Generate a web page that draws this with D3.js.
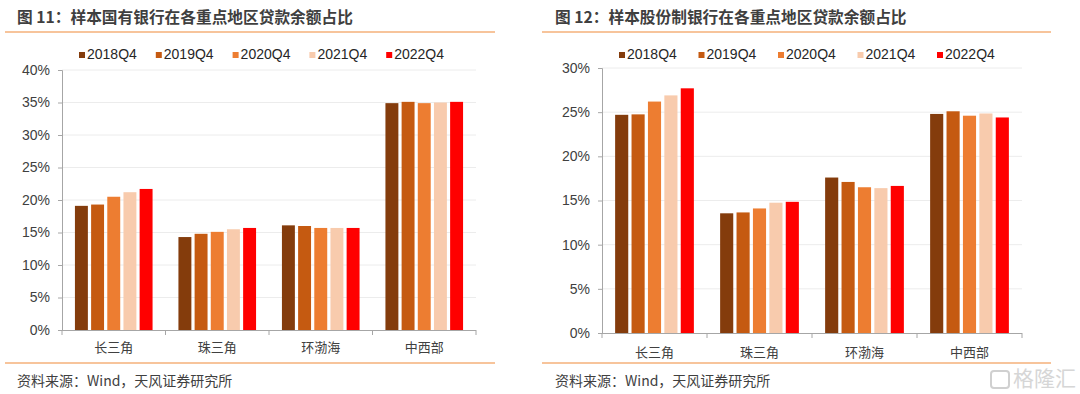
<!DOCTYPE html>
<html><head><meta charset="utf-8">
<script src="https://cdn.jsdelivr.net/npm/d3@7"></script>
<style>
body{margin:0;background:#fff;}
svg{display:block;}
text{font-family:"Liberation Sans",Arial,"Noto Sans CJK SC",sans-serif;}
.cjk{font-family:"Noto Sans CJK SC",sans-serif;}
</style></head>
<body>
<svg id="c" width="1080" height="394"></svg>
<script>
const categories = ["长三角","珠三角","环渤海","中西部"];
const seriesNames = ["2018Q4","2019Q4","2020Q4","2021Q4","2022Q4"];
const colors = ["#843C0C","#C55A11","#ED7D31","#F8CBAD","#FF0000"];
// 图11 样本国有银行 (%), per series across categories
const soe2018 = [19.1, 14.3, 16.1, 34.9];
const soe2019 = [19.3, 14.8, 16.0, 35.1];
const soe2020 = [20.5, 15.1, 15.7, 34.9];
const soe2021 = [21.2, 15.5, 15.7, 35.0];
const soe2022 = [21.7, 15.7, 15.7, 35.1];
// 图12 样本股份制银行 (%)
const jsb2018 = [24.7, 13.55, 17.6, 24.8];
const jsb2019 = [24.75, 13.65, 17.1, 25.1];
const jsb2020 = [26.2, 14.1, 16.5, 24.6];
const jsb2021 = [26.9, 14.75, 16.4, 24.85];
const jsb2022 = [27.7, 14.85, 16.65, 24.4];
const ticksLeft = [0,5,10,15,20,25,30,35,40];
const ticksRight = [0,5,10,15,20,25,30];
const titles = ["图 11：样本国有银行在各重点地区贷款余额占比","图 12：样本股份制银行在各重点地区贷款余额占比"];
const sourceText = "资料来源：Wind，天风证券研究所";

const svg = d3.select("#c");
const lineColor = "#F5B07A";
const textColor = "#404040";

function panel(opt){
  const g = svg.append("g");
  g.append("text").attr("class","cjk").attr("x",opt.titleX).attr("y",23)
    .attr("font-size",15.7).attr("font-weight","bold").attr("fill","#3f3f3f").text(opt.title);
  g.append("line").attr("x1",opt.lineX0).attr("x2",opt.lineX1).attr("y1",32).attr("y2",32)
    .attr("stroke",lineColor).attr("stroke-width",1.5);
  g.append("line").attr("x1",opt.lineX0).attr("x2",opt.lineX1).attr("y1",363).attr("y2",363)
    .attr("stroke",lineColor).attr("stroke-width",1.5);
  g.append("text").attr("class","cjk").attr("x",opt.titleX).attr("y",386)
    .attr("font-size",14).attr("fill",textColor).text(sourceText);

  const y = d3.scaleLinear().domain([0, opt.ticks[opt.ticks.length-1]]).range([opt.y0, opt.y1]);
  const x = d3.scaleBand().domain(categories).range([opt.x0, opt.x1]).paddingInner(0).paddingOuter(0);
  const pad = x.bandwidth()*0.125;
  const xs = d3.scaleBand().domain(seriesNames).range([pad, x.bandwidth()-pad]).paddingInner(0.2).paddingOuter(0);

  g.append("g").selectAll("line").data(opt.ticks.filter(t=>t>0)).join("line")
    .attr("x1",opt.x0).attr("x2",opt.x1).attr("y1",d=>y(d)).attr("y2",d=>y(d))
    .attr("stroke","#ececec").attr("stroke-width",1);

  opt.series.forEach((vals,si)=>{
    g.append("g").selectAll("rect").data(vals).join("rect")
      .attr("x",(d,i)=>x(categories[i])+xs(seriesNames[si]))
      .attr("width",xs.bandwidth())
      .attr("y",d=>y(d)).attr("height",d=>y(0)-y(d))
      .attr("fill",colors[si]);
  });

  const ya = g.append("g").attr("transform",`translate(${opt.x0},0)`)
    .call(d3.axisLeft(y).tickValues(opt.ticks).tickFormat(d=>d+"%").tickSize(4).tickPadding(8));
  ya.select(".domain").attr("stroke","#a6a6a6");
  ya.selectAll(".tick line").attr("stroke","#a6a6a6");
  ya.selectAll("text").attr("font-size",14).attr("fill",textColor)
    .attr("font-family","'Liberation Sans',Arial,sans-serif");

  const xa = g.append("g");
  xa.append("line").attr("x1",opt.x0).attr("x2",opt.x1).attr("y1",y(0)+0.5).attr("y2",y(0)+0.5)
    .attr("stroke","#a6a6a6");
  const bounds = categories.map(c=>x(c)).concat([opt.x1]);
  xa.selectAll(".bt").data(bounds).join("line").attr("class","bt")
    .attr("x1",d=>d).attr("x2",d=>d).attr("y1",y(0)).attr("y2",y(0)+5).attr("stroke","#a6a6a6");
  xa.selectAll("text").data(categories).join("text").attr("class","cjk")
    .attr("x",d=>x(d)+x.bandwidth()/2).attr("y",y(0)+opt.catDy)
    .attr("text-anchor","middle").attr("font-size",13).attr("fill",textColor).text(d=>d);

  const lg = g.append("g");
  seriesNames.forEach((s,i)=>{
    const lx = opt.legX + i*opt.legStep;
    lg.append("rect").attr("x",lx).attr("y",52).attr("width",6).attr("height",6).attr("fill",colors[i]);
    lg.append("text").attr("x",lx+8).attr("y",58.5).attr("font-size",14).attr("fill","#262626").text(s);
  });
}

panel({title:titles[0], titleX:17, lineX0:5, lineX1:495,
  x0:62, x1:476, y0:330, y1:70, ticks:ticksLeft, catDy:22,
  series:[soe2018,soe2019,soe2020,soe2021,soe2022], legX:79, legStep:76.8});
panel({title:titles[1], titleX:555, lineX0:542, lineX1:1051,
  x0:602, x1:1022, y0:333, y1:68, ticks:ticksRight, catDy:24,
  series:[jsb2018,jsb2019,jsb2020,jsb2021,jsb2022], legX:619, legStep:79.5});

// watermark
const wm = svg.append("g");
wm.append("rect").attr("x",991).attr("y",371).attr("width",18).attr("height",17).attr("rx",3)
  .attr("fill","none").attr("stroke","#d0d0d0").attr("stroke-width",2);
wm.append("text").attr("class","cjk").attr("x",1013).attr("y",386).attr("font-size",21)
  .attr("fill","#d6d6d6").text("格隆汇");
</script>
</body></html>
